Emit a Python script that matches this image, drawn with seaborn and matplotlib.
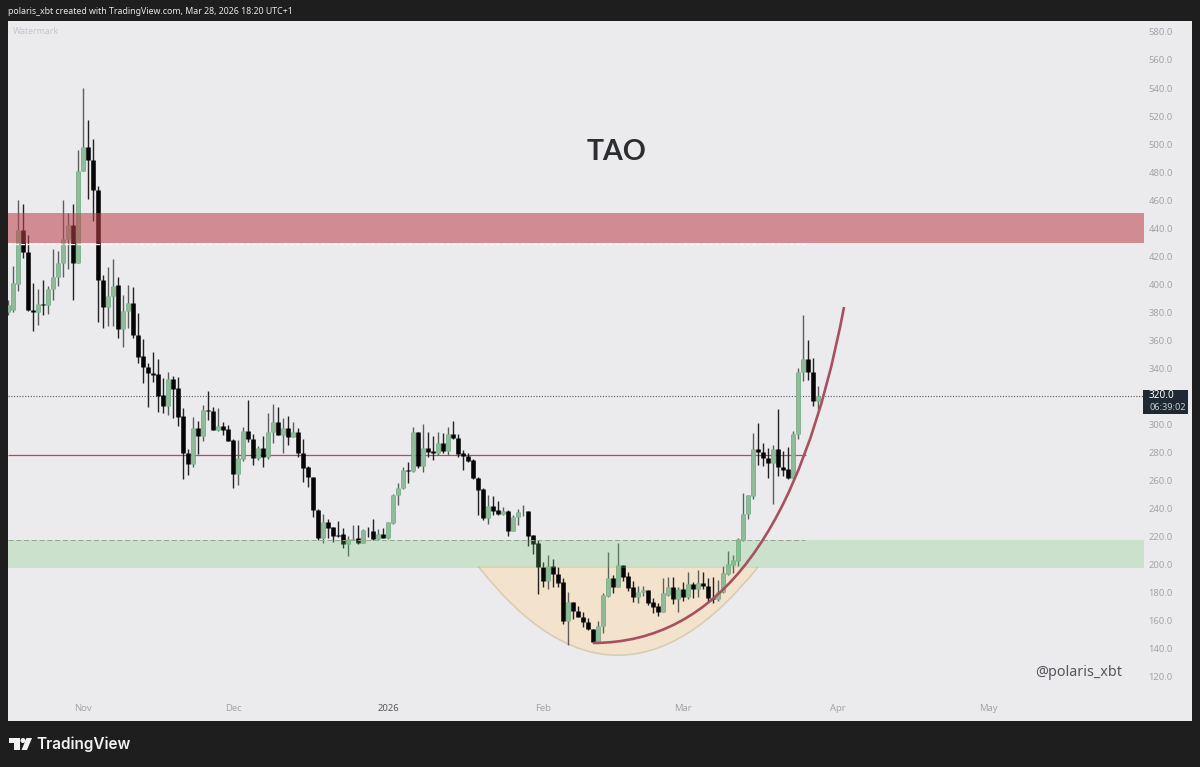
import numpy as np
import pandas as pd
import matplotlib
matplotlib.use("Agg")
import matplotlib.pyplot as plt
import matplotlib.dates as mdates
import seaborn as sns
from matplotlib.patches import PathPatch, Rectangle, Polygon, Ellipse
from matplotlib.path import Path

START_DATE = "2025-10-17"

opens = [380, 382, 400, 439, 423, 382, 380, 386, 385, 397, 405, 415, 432, 442, 415,
         481, 498, 489, 467, 403, 384, 392, 399.5, 368, 381, 387, 364, 349, 341, 337,
         335.8, 321, 313.2, 332.5, 325.8, 306, 280, 271.9, 297.8, 292, 310.4, 309.7, 296, 299, 296.8,
         289, 264.7, 275.5, 295.4, 290, 276, 283, 276.6, 294.4, 302, 292.5, 297.8, 291.4, 294.9, 280,
         269.7, 262.4, 239, 219.3, 230.5, 226.7, 221, 221.9, 214.6, 218, 218.8, 215.3, 224.3, 224, 218.4,
         221.7, 218.9, 230, 249.5, 254.5, 267.6, 266.9, 294.4, 270.7, 283.5, 281, 280, 286.6, 281.1, 293.2,
         290.6, 279.5, 277.8, 274.5, 262, 253.8, 233.6, 241.9, 239, 236, 238.3, 224, 234.3, 238, 238.6,
         221, 215.3, 198.2, 188.4, 199.3, 193.4, 187.5, 160.1, 173.4, 167.3, 163, 159.4, 154.2, 145.1, 156.3,
         177.7, 190.8, 184.4, 199.6, 192, 183.9, 176.8, 180.3, 182, 173.2, 170.3, 166.1, 178.4, 184.4, 175.6,
         182.5, 176.8, 186.3, 182.7, 186.7, 185, 176.5, 175.6, 180.8, 193.4, 199.8, 202.9, 217.6, 235.9, 249.2,
         282.8, 280.1, 275.9, 272.8, 282.5, 269.9, 268.2, 261.6, 293.2, 337.2, 346.9, 337.7, 316.7]
closes = [385, 400.7, 439, 423, 382, 380, 386, 385, 397, 405, 415, 432, 442, 415, 481,
          498, 489, 467, 403, 384, 392, 399, 367.9, 381, 387, 364, 348.4, 340.8, 336.5, 335,
          320.6, 313.2, 332.2, 325.3, 305.6, 280, 271.9, 297.8, 291.8, 310.4, 310, 296, 299, 296, 288.5,
          264.7, 275.9, 295.4, 289.7, 276, 283, 276.6, 294.4, 302, 292.5, 297.3, 291.4, 294.9, 280, 269.2,
          262.3, 239, 218.9, 230.5, 226, 220.8, 220.8, 214.6, 218.1, 218.5, 215.3, 224.8, 224.1, 218.4, 221.7,
          218.9, 230.5, 249.5, 254.7, 267.6, 267.1, 294.4, 270.7, 283.5, 280.7, 280, 286.6, 281.1, 293.2, 290.2,
          278.8, 277.6, 274, 261.6, 253.3, 233.6, 241.9, 238.6, 236, 238.3, 224, 234.3, 237.9, 238.3, 220.8,
          214.8, 198.2, 188.4, 199.3, 193.4, 187.2, 160.1, 173.4, 167.3, 162.5, 158.9, 154.2, 145.1, 156.6, 178.4,
          190.8, 184.4, 199.6, 191.5, 183.7, 176.8, 180.3, 182, 173, 170.1, 166.5, 179.6, 184.4, 175.6, 182.5,
          176.8, 186.3, 182.7, 186.7, 184.8, 176, 175.6, 180.8, 193.9, 200.3, 203.4, 218.4, 236, 249.5, 282.8,
          280.1, 275.9, 272.8, 282.5, 269.9, 267.5, 261.6, 293.2, 337.2, 346.9, 337.7, 316.7, 320]
highs = [389, 413, 460, 457, 435, 401, 397, 403, 399, 425, 424, 460, 451, 457, 496,
         540, 517, 504, 470, 407, 412, 418, 405, 392.4, 399.5, 398.3, 379.3, 360.8, 344, 352,
         346.5, 333, 337.7, 334.6, 333.6, 311.6, 282.6, 305.6, 302.8, 314, 324, 312.3, 311.6, 301.6, 299.4,
         289.5, 289, 298, 317.5, 293, 284.9, 291.8, 308, 315, 312.7, 304.4, 306.3, 302, 297.3, 289.7,
         270.4, 262.5, 239.5, 236, 232.6, 226.7, 231.5, 226, 220.5, 228.4, 228.4, 225.3, 227.2, 232.6, 225.5,
         226, 230.7, 250.2, 258.5, 270, 273.5, 298.5, 294.4, 300.4, 295, 291.8, 295, 294.2, 298.5, 302.5,
         293.2, 281.8, 279.5, 275.2, 262.8, 254.5, 249.8, 249, 245.7, 241, 239, 235.5, 239.8, 242.6, 238.6,
         221, 217.6, 201.7, 207, 204, 198.2, 190.8, 180.3, 173.4, 170.6, 166.5, 162.3, 154.2, 160.1, 179.6,
         208.9, 192.7, 215.3, 199.6, 195, 188.6, 184.8, 184.8, 182, 176, 172.5, 190.3, 191.5, 191, 184.4,
         188, 195, 188, 196.3, 194.6, 190.3, 191.5, 189, 199.3, 209.8, 207, 218.8, 250.9, 249.7, 293.7,
         300.8, 286.6, 283, 285.4, 310.8, 281.1, 283.7, 295.6, 340, 378, 360.2, 347.2, 327.4]
lows = [378, 380, 395, 419, 381, 367, 371, 378, 379, 389, 399, 405, 411, 389, 415,
        481, 461, 445, 373, 369, 370, 370, 361.5, 355.5, 368.6, 361.5, 344, 329.9, 312.7, 330.6,
        309.2, 308, 306.8, 304.9, 299.2, 261.2, 264, 269.5, 278.7, 288, 303, 296, 295.6, 292.5, 288,
        254.5, 256.9, 274.2, 287.3, 271, 275, 270, 275.6, 287, 292.5, 280, 285.4, 290.9, 276.6, 259.3,
        255.7, 234, 217.5, 215.3, 219, 216.5, 220, 211.7, 206.5, 218, 215, 215.3, 220, 217.7, 217.7,
        218.9, 218.4, 228.8, 242.6, 254, 258.5, 266.4, 268.8, 266, 276.6, 274.7, 278.3, 279.5, 278.3, 290,
        277.1, 267.6, 273.5, 261.2, 235.5, 231.9, 229.1, 235.5, 235.5, 235.5, 220.5, 224, 228.4, 234.8, 213.4,
        207.7, 179.1, 184.4, 182.7, 184.4, 183.9, 157.7, 142.8, 161.1, 162.5, 155.8, 153.5, 144, 145.1, 151.1,
        177.2, 179.6, 183.9, 188.4, 181.3, 173.7, 173, 177.7, 171.3, 165.8, 163.7, 166, 177.7, 172, 166,
        174.4, 175.3, 176, 177.2, 182.5, 173.7, 172.5, 174.4, 179.6, 192.7, 194.3, 199.1, 217.1, 232.4, 246.6,
        271.1, 270.6, 261.6, 243.1, 263.5, 263.5, 261.1, 261.1, 289.6, 331, 331.7, 313.4, 310.8]

# 320 sits under the price tag, so it has no tick label of its own
price_ticks = [p for p in range(120, 581, 20) if p != 320]
month_dates = ["2025-11-01", "2025-12-01", "2026-01-01", "2026-02-01", "2026-03-01", "2026-04-01", "2026-05-01"]
month_labels = ["Nov", "Dec", "2026", "Feb", "Mar", "Apr", "May"]

# levels drawn on the chart
red_zone = (429.4, 450.8)
green_zone = (197.7, 217.7)
mid_level = 278.6
last_price = 320.0

# drawing anchors as (date, price): start, control, end
bowl_anchors = [("2026-01-19", 199.1), ("2026-02-15 19:00", 72.2), ("2026-03-16", 198.4)]
curve_anchors = [("2026-02-11", 144.2), ("2026-03-20 14:00", 144.2), ("2026-04-02 05:00", 383.8)]

BG = "#1e1e1f"
PANEL = "#ebebee"
W, H = 1200, 767


def fx(px):
    return px / W


def fy(py):
    return 1 - py / H


sns.set_theme(style="white")
plt.rcParams["font.family"] = ["Noto Sans", "DejaVu Sans"]

dates = pd.date_range(START_DATE, periods=len(opens), freq="D")
x = mdates.date2num(dates)
df = pd.DataFrame({"x": x, "open": opens, "close": closes, "high": highs, "low": lows})
df["dir"] = np.where(df["close"] >= df["open"], "up", "down")

wicks = pd.concat([df.assign(price=df["low"]), df.assign(price=df["high"])])
bodies = pd.concat([df.assign(price=df["open"]), df.assign(price=df["close"])])

fig = plt.figure(figsize=(W / 100, H / 100), dpi=100, facecolor=BG)
fig.patches.append(Rectangle((fx(8), fy(721)), 1184 / W, 700 / H, transform=fig.transFigure,
                             facecolor=PANEL, edgecolor="none", zorder=-5))

ax = fig.add_axes([fx(8), fy(696), 1136 / W, 675 / H])
ax.patch.set_alpha(0)
nov1 = mdates.date2num(pd.Timestamp("2025-11-01"))
ax.set_xlim(nov1 - 15, nov1 + 212.2)
ax.set_ylim(106.4, 587.8)

to_num = lambda a: (mdates.date2num(pd.Timestamp(a[0])), a[1])
bowl_verts = [to_num(a) for a in bowl_anchors]
# fill first, then only the rounded edge so the flat top stays clean
ax.add_patch(PathPatch(Path(bowl_verts + [bowl_verts[0]], [Path.MOVETO, Path.CURVE3, Path.CURVE3, Path.LINETO]),
                       facecolor="#f3e3cd", edgecolor="none", zorder=1))
ax.add_patch(PathPatch(Path(bowl_verts, [Path.MOVETO, Path.CURVE3, Path.CURVE3]),
                       facecolor="none", edgecolor="#d8ccb6", lw=1.2, zorder=1))

ax.hlines(mid_level, x[0], nov1 + 144.6, color="#b8485a", lw=0.9, zorder=1.5)

sns.lineplot(data=wicks, x="x", y="price", hue="dir", units="x", estimator=None, sort=False,
             palette={"up": "#5a5f5c", "down": "#222222"}, lw=1.0, legend=False, ax=ax, zorder=2,
             solid_capstyle="butt")
sns.lineplot(data=bodies, x="x", y="price", hue="dir", units="x", estimator=None, sort=False,
             palette={"up": "#6aa57c", "down": "#050505"}, lw=3.3, legend=False, ax=ax, zorder=2.1,
             solid_capstyle="butt")
sns.lineplot(data=bodies[bodies["dir"] == "up"], x="x", y="price", units="x", estimator=None, sort=False,
             color="#8fbb9b", lw=2.2, ax=ax, zorder=2.2, solid_capstyle="butt")

ax.axhspan(*red_zone, facecolor="#bc3f49", alpha=0.55, lw=0, zorder=3)
ax.axhspan(*green_zone, facecolor="#6cc468", alpha=0.25, lw=0, zorder=3)
ax.hlines(red_zone[0] - 0.5, x[0], nov1 + 144.4, color="#fbf8f8", lw=1.0, ls=(0, (3, 1.5)), zorder=3.1)
ax.hlines(green_zone[1], x[0], nov1 + 144.4, color="#94a597", lw=0.7, ls=(0, (5, 3)), zorder=3.1)
ax.axhline(last_price, color="#55585c", lw=0.8, ls=(0, (1, 1.5)), zorder=1.5)

curve = Path([to_num(a) for a in curve_anchors], [Path.MOVETO, Path.CURVE3, Path.CURVE3])
ax.add_patch(PathPatch(curve, facecolor="none", edgecolor="#a8505f", lw=1.9, zorder=4, capstyle="butt"))

ax.set_xlabel("")
ax.set_ylabel("")
ax.yaxis.tick_right()
ax.set_yticks(price_ticks, [f"{p:.1f}" for p in price_ticks])
ax.set_xticks(mdates.date2num(pd.to_datetime(month_dates)), month_labels)
ax.tick_params(axis="y", length=0, pad=3.2, labelsize=6.8, labelcolor="#a3a4a8")
ax.tick_params(axis="x", length=0, pad=6, labelsize=6.8, labelcolor="#a3a4a8")
for lab in ax.get_xticklabels():
    if lab.get_text() == "2026":
        lab.set_fontweight("bold")
        lab.set_color("#55565a")
sns.despine(ax=ax, left=True, bottom=True, top=True, right=True)

fig.text(fx(617), fy(152), "TAO", ha="center", va="center",
         fontsize=20.5, fontweight="bold", color="#2c2d30", family="Lato")
fig.text(fx(1035), fy(673), "@polaris_xbt", fontsize=10.3, color="#55565c", va="center", ha="left")
fig.text(fx(13), fy(31), "Watermark", fontsize=6.3, color="#c6c6ca", va="center", ha="left")
fig.text(fx(8), fy(11), "polaris_xbt created with TradingView.com, Mar 28, 2026 18:20 UTC+1",
         fontsize=6.35, color="#e8e8e8", va="center", ha="left", fontweight="medium")

# price tag on the right
fig.patches.append(Rectangle((fx(1143), fy(413.5)), 45 / W, 23.5 / H, transform=fig.transFigure,
                             facecolor="#1f2933", edgecolor="none", zorder=5))
fig.text(fx(1149), fy(396), "320.0", fontsize=7.2, color="white", fontweight="bold", va="center", ha="left", zorder=6)
fig.text(fx(1149), fy(408), "06:39:02", fontsize=6.6, color="#c8ccd0", va="center", ha="left", zorder=6)


# TradingView logo
def px_xy(pts):
    return [(fx(a), fy(b)) for a, b in pts]


logo_kw = dict(transform=fig.transFigure, facecolor="#f2f2f2", edgecolor="none", zorder=5)
fig.patches.append(Polygon(px_xy([(9, 738), (20, 738), (20, 750), (14, 750), (14, 743), (9, 743)]), **logo_kw))
fig.patches.append(Polygon(px_xy([(26.5, 738), (32, 738), (27, 750), (21.5, 750)]), **logo_kw))
fig.patches.append(Ellipse((fx(23), fy(740.5)), 5 / W, 5 / H, **logo_kw))
fig.text(fx(36), fy(744), "TradingView", fontsize=11, color="#f2f2f2", fontweight="semibold",
         va="center", ha="left", family="Inter")

fig.savefig("out.png", dpi=100, facecolor=BG)
